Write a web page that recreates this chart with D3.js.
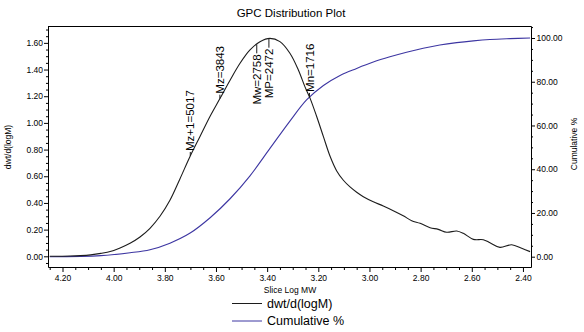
<!DOCTYPE html>
<html><head><meta charset="utf-8">
<script src="https://cdn.jsdelivr.net/npm/d3@7"></script>
<style>
body{margin:0;background:#fff}
svg{display:block}
text{font-family:"Liberation Sans",Arial,Helvetica,sans-serif;fill:#000}
</style></head>
<body><svg id="chart" width="584" height="332"></svg>
<script>
// ---- data ----
const dwtLogM = [4.25,4.17,4.13,4.09,4.05,4.01,3.975,3.936,3.897,3.858,3.819,3.780,3.741,3.701,3.662,3.623,3.584,3.545,3.506,3.467,3.428,3.389,3.350,3.311,3.278,3.252,3.232,3.206,3.180,3.154,3.128,3.102,3.076,3.050,3.024,2.985,2.946,2.907,2.868,2.835,2.802,2.763,2.731,2.698,2.659,2.633,2.594,2.555,2.529,2.490,2.444,2.405,2.372];
const dwtValues = [0.000,0.002,0.005,0.011,0.022,0.038,0.063,0.098,0.145,0.210,0.300,0.420,0.580,0.750,0.900,1.050,1.184,1.320,1.447,1.547,1.609,1.634,1.609,1.522,1.397,1.270,1.184,1.046,0.897,0.750,0.640,0.570,0.520,0.480,0.447,0.409,0.377,0.342,0.304,0.267,0.247,0.214,0.202,0.180,0.190,0.172,0.127,0.124,0.102,0.067,0.087,0.060,0.035];
const cumLogM = [4.25,4.05,3.936,3.858,3.780,3.701,3.623,3.545,3.467,3.389,3.311,3.245,3.180,3.115,3.050,2.985,2.920,2.855,2.790,2.725,2.659,2.594,2.529,2.451,2.372];
const cumValues = [0,0.5,1.8,3.2,6.2,10.8,17.8,26.5,37.0,49.5,62.0,71.8,78.3,82.9,86.1,89.0,91.4,93.5,95.3,96.8,97.9,98.7,99.3,99.7,100.0];
const markerNames = ["Mz+1","Mz","Mw","MP","Mn"];
const markerMW = [5017,3843,2758,2472,1716];
const xTicks = [4.20,4.00,3.80,3.60,3.40,3.20,3.00,2.80,2.60,2.40];
const yLeftTicks = [0,0.2,0.4,0.6,0.8,1.0,1.2,1.4,1.6];
const yRightTicks = [0,20,40,60,80,100];
const seriesNames = ["dwt/d(logM)","Cumulative %"];
const titleText = "GPC Distribution Plot";
const xTitle = "Slice Log MW";
const yLeftTitle = "dwt/d(logM)";
const yRightTitle = "Cumulative %";

// ---- layout ----
const L = 48, R = 531, T = 26, B = 267;
const svg = d3.select("#chart");
const blackC = "#1c1c1c", blueC = "#3d36a2";
const fs = "8.5px";

const x = d3.scaleLinear().domain([4.2567, 2.3685]).range([L, R]);
const yL = d3.scaleLinear().domain([-0.0802, 1.7264]).range([B, T]);
const yR = d3.scaleLinear().domain([-4.71, 105.49]).range([B, T]);

const near = (v, arr) => arr.some(a => Math.abs(a - v) < 1e-6);
const xMinor = d3.range(0, 38).map(i => +(4.25 - i * 0.05).toFixed(2)).filter(v => !near(v, xTicks));
const yLMinor = d3.range(0, 36).map(i => +(-0.05 + i * 0.05).toFixed(2)).filter(v => !near(v, yLeftTicks) && v <= 1.72);
const yRMinor = d3.range(0, 22).map(i => i * 5).filter(v => !near(v, yRightTicks));

function styleAxis(g) {
  g.selectAll("path,line").attr("stroke", "#000").attr("stroke-width", 1);
  g.selectAll("text").style("font-size", fs).attr("fill", "#000");
}

// minor ticks
svg.append("g").attr("transform", `translate(0,${B})`)
  .call(d3.axisBottom(x).tickValues(xMinor).tickSize(3).tickSizeOuter(0).tickFormat(""))
  .call(g => g.select(".domain").remove()).call(styleAxis);
svg.append("g").attr("transform", `translate(${L},0)`)
  .call(d3.axisLeft(yL).tickValues(yLMinor).tickSize(2).tickSizeOuter(0).tickFormat(""))
  .call(g => g.select(".domain").remove()).call(styleAxis);
svg.append("g").attr("transform", `translate(${R},0)`)
  .call(d3.axisRight(yR).tickValues(yRMinor).tickSize(2).tickSizeOuter(0).tickFormat(""))
  .call(g => g.select(".domain").remove()).call(styleAxis);

// major axes
svg.append("g").attr("transform", `translate(0,${B})`)
  .call(d3.axisBottom(x).tickValues(xTicks).tickSize(5).tickPadding(3).tickSizeOuter(0).tickFormat(d3.format(".2f")))
  .call(styleAxis);
svg.append("g").attr("transform", `translate(${L},0)`)
  .call(d3.axisLeft(yL).tickValues(yLeftTicks).tickSize(4).tickPadding(1).tickSizeOuter(0).tickFormat(d3.format(".2f")))
  .call(styleAxis);
svg.append("g").attr("transform", `translate(${R},0)`)
  .call(d3.axisRight(yR).tickValues(yRightTicks).tickSize(4).tickPadding(1.5).tickSizeOuter(0).tickFormat(d3.format(".2f")))
  .call(styleAxis);
// top frame line
svg.append("line").attr("x1", L).attr("x2", R + 0.5).attr("y1", T + 0.5).attr("y2", T + 0.5)
  .attr("stroke", "#000").attr("stroke-width", 1);

// curves
const dwtData = dwtLogM.map((m, i) => [m, dwtValues[i]]);
const cumData = cumLogM.map((m, i) => [m, cumValues[i]]);
svg.append("path").datum(cumData)
  .attr("d", d3.line().x(d => x(d[0])).y(d => yR(d[1])).curve(d3.curveCatmullRom.alpha(0.5)))
  .attr("fill", "none").attr("stroke", blueC).attr("stroke-width", 1.1);
svg.append("path").datum(dwtData)
  .attr("d", d3.line().x(d => x(d[0])).y(d => yL(d[1])).curve(d3.curveCatmullRom.alpha(0.5)))
  .attr("fill", "none").attr("stroke", blackC).attr("stroke-width", 1.1);

// markers
const dwtAt = d3.scaleLinear().domain(dwtLogM).range(dwtValues);
const below = new Set(["Mw", "MP"]);
markerNames.forEach((name, i) => {
  const lm = Math.log10(markerMW[i]);
  const px = x(lm), py = yL(dwtAt(lm));
  const isBelow = below.has(name);
  const len = isBelow ? 9 : 4;
  const y2 = isBelow ? py + len : py - len;
  svg.append("line").attr("x1", px).attr("x2", px).attr("y1", py).attr("y2", y2)
    .attr("stroke", blackC).attr("stroke-width", 1);
  svg.append("text")
    .attr("transform", `translate(${px},${isBelow ? y2 + 1 : y2 - 1}) rotate(-90)`)
    .attr("text-anchor", isBelow ? "end" : "start")
    .attr("dy", "0.36em")
    .style("font-size", "11.5px")
    .text(`${name}=${markerMW[i]}`);
});

// titles
svg.append("text").attr("x", 291).attr("y", 17).attr("text-anchor", "middle")
  .style("font-size", "11.5px").text(titleText);
svg.append("text").attr("x", 290).attr("y", 293).attr("text-anchor", "middle")
  .style("font-size", "8.5px").text(xTitle);
svg.append("text").attr("transform", "translate(8,147) rotate(-90)").attr("text-anchor", "middle")
  .attr("dy", "0.35em").style("font-size", "8.5px").text(yLeftTitle);
svg.append("text").attr("transform", "translate(574,144) rotate(-90)").attr("text-anchor", "middle")
  .attr("dy", "0.35em").style("font-size", "8.5px").text(yRightTitle);

// legend
const legendColors = [blackC, blueC];
const lg = svg.append("g");
seriesNames.forEach((s, i) => {
  const ly = 303.5 + i * 17.5;
  lg.append("line").attr("x1", 232).attr("x2", 262).attr("y1", ly).attr("y2", ly)
    .attr("stroke", legendColors[i]).attr("stroke-width", 1);
  lg.append("text").attr("x", 267).attr("y", ly).attr("dy", "0.35em")
    .style("font-size", "12.5px").text(s);
});
</script></body></html>
